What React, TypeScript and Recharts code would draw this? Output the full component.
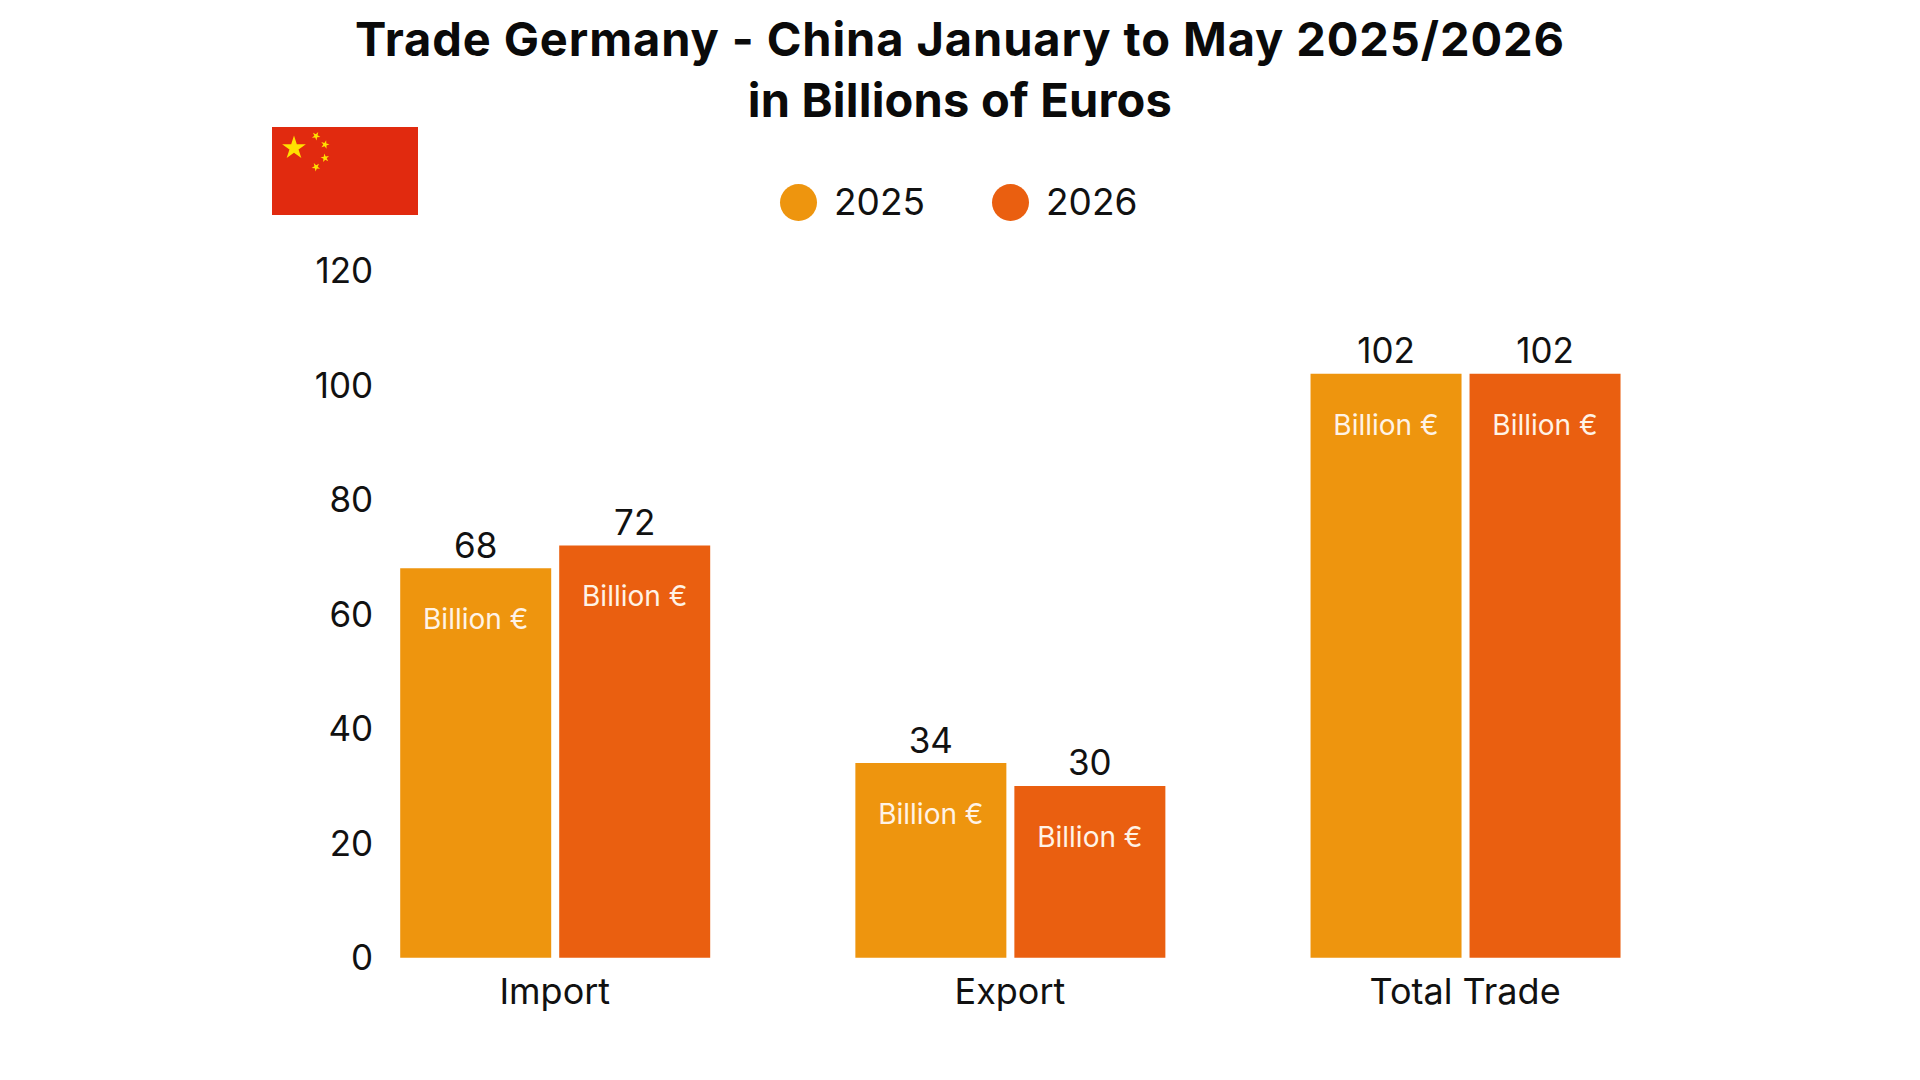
import React from "react";
import { BarChart, Bar, XAxis, YAxis, Legend, LabelList } from "recharts";

const categories = ["Import", "Export", "Total Trade"];
const values2025 = [68, 34, 102];
const values2026 = [72, 30, 102];
const yTicks = [0, 20, 40, 60, 80, 100, 120];
const titleLines = ["Trade Germany - China January to May 2025/2026", "in Billions of Euros"];
const titleSpacing = [0.9, 0.2];
const unitLabel = "Billion €";
const COLOR_2025 = "#EE950E";
const COLOR_2026 = "#EA5F10";
const FONT = "Inter, sans-serif";

const rows = categories.map((c, i) => ({ category: c, y2025: values2025[i], y2026: values2026[i] }));

function starPoints(cx: number, cy: number, r: number, rot = -90) {
  const pts: string[] = [];
  for (let i = 0; i < 10; i++) {
    const rad = i % 2 === 0 ? r : r * 0.382;
    const a = ((rot + i * 36) * Math.PI) / 180;
    pts.push(`${cx + rad * Math.cos(a)},${cy + rad * Math.sin(a)}`);
  }
  return pts.join(" ");
}

function Flag() {
  return (
    <svg width={146} height={88} style={{ position: "absolute", left: 272, top: 126.5 }}>
      <rect width={146} height={88} fill="#E12A0F" />
      <polygon points={starPoints(22, 21, 12.5)} fill="#FFE000" />
      <polygon points={starPoints(44, 9, 4.5, -60)} fill="#FFE000" />
      <polygon points={starPoints(53, 17.5, 4.5, -75)} fill="#FFE000" />
      <polygon points={starPoints(53, 31, 4.5, -100)} fill="#FFE000" />
      <polygon points={starPoints(44, 40, 4.5, -120)} fill="#FFE000" />
    </svg>
  );
}

function LegendContent({ payload }: any) {
  const starts = [780, 992];
  return (
    <div>
      {(payload || []).map((p: any, i: number) => (
        <div key={p.value} style={{ position: "absolute", left: starts[i], top: 0, display: "flex", alignItems: "center", height: 38 }}>
          <span style={{ width: 37, height: 37, borderRadius: "50%", background: p.color, display: "inline-block" }} />
          <span style={{ marginLeft: 17, fontSize: 37, color: "#111", fontFamily: FONT, lineHeight: "38px" }}>{p.value}</span>
        </div>
      ))}
    </div>
  );
}

function UnitLabel(props: any) {
  const { x, y, width } = props;
  return (
    <text x={x + width / 2} y={y + 51} textAnchor="middle" dominantBaseline="central" fill="#FFF3E6" fontSize={28} fontFamily={FONT}>
      {unitLabel}
    </text>
  );
}

export default function App() {
  return (
    <div style={{ position: "absolute", left: 0, top: 0, width: 1920, height: 1080, background: "#fff", overflow: "hidden" }}>
      {titleLines.map((t, i) => (
        <div key={t} style={{ position: "absolute", left: 0, width: 1920, textAlign: "center", top: 9 + i * 61, height: 60, lineHeight: "60px", fontSize: 47, fontWeight: 700, letterSpacing: titleSpacing[i], color: "#0a0a0a", fontFamily: FONT }}>
          {t}
        </div>
      ))}
      <Flag />
      <BarChart
        width={1920}
        height={1080}
        data={rows}
        barCategoryGap={73}
        barGap={8}
        margin={{ top: 270.6, bottom: 72.3, left: 267.2, right: 227.3 }}
      >
        <XAxis
          dataKey="category"
          axisLine={false}
          tickLine={false}
          height={50}
          tickMargin={15}
          tick={{ fontSize: 36, fill: "#111", fontFamily: FONT }}
          interval={0}
        />
        <YAxis
          width={60}
          domain={[0, 120]}
          ticks={yTicks}
          axisLine={false}
          tickLine={false}
          tickSize={0}
          tick={{ fontSize: 35, fill: "#111", fontFamily: FONT, dx: 48 }}
        />
        <Legend
          verticalAlign="middle"
          align="center"
          wrapperStyle={{ position: "absolute", left: 0, top: 183, width: 1920, height: 38 }}
          content={<LegendContent />}
        />
        <Bar dataKey="y2025" name="2025" fill={COLOR_2025} isAnimationActive={false}>
          <LabelList dataKey="y2025" position="top" offset={10.5} fill="#111" fontSize={35} fontFamily={FONT} />
          <LabelList dataKey="y2025" content={<UnitLabel />} />
        </Bar>
        <Bar dataKey="y2026" name="2026" fill={COLOR_2026} isAnimationActive={false}>
          <LabelList dataKey="y2026" position="top" offset={10.5} fill="#111" fontSize={35} fontFamily={FONT} />
          <LabelList dataKey="y2026" content={<UnitLabel />} />
        </Bar>
      </BarChart>
    </div>
  );
}
